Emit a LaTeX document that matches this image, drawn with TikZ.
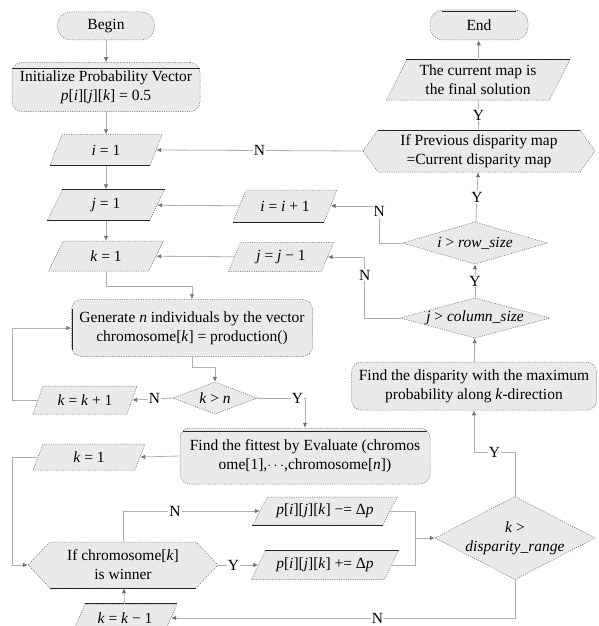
\documentclass[tikz,border=0pt]{standalone}
\usepackage{fontspec}
\setmainfont{Liberation Serif}
\usetikzlibrary{arrows.meta,calc}

\definecolor{boxfill}{RGB}{234,234,234}
\definecolor{lnk}{RGB}{175,175,175}
\definecolor{tipc}{RGB}{115,115,115}
\definecolor{edgec}{RGB}{95,95,95}

\tikzset{
 x=1pt, y=-1pt,
 every node/.style={font=\fontsize{15.5}{19}\selectfont},
 box/.style={rectangle, inner sep=0pt, align=center},
 shp/.style={fill=boxfill, draw=edgec, line width=0.5pt, dash pattern=on 1pt off 1.3pt},
 dark/.style={draw=black!85, line width=1pt},
 conn/.style={draw=lnk, line width=0.8pt, -{Latex[length=5pt,width=4.5pt,color=tipc]}},
 plain/.style={draw=lnk, line width=0.8pt},
 lbl/.style={fill=white, inner sep=1pt, text=black},
}

% parallelogram: name, cx, cy, mid width, height, slant, text
\newcommand\PARA[7]{%
 \path[shp] ({#2-#4/2-#6/2},{#3+#5/2}) -- ({#2+#4/2-#6/2},{#3+#5/2}) -- ({#2+#4/2+#6/2},{#3-#5/2}) -- ({#2-#4/2+#6/2},{#3-#5/2}) -- cycle;
 \node[box, minimum width=#4, minimum height=#5] (#1) at (#2,#3) {#7};}
\newcommand\darkbot[2]{\draw[dark] ($(#1.south west)+({-#2/2},0)$) -- ($(#1.south east)+({-#2/2},0)$);}
\newcommand\darktop[2]{\draw[dark] ($(#1.north west)+({#2/2},0)$) -- ($(#1.north east)+({#2/2},0)$);}
% rounded rectangle: name, cx, cy, w, h, radius, text
\newcommand\RREC[7]{%
 \node[box, shp, rounded corners=#6, minimum width=#4, minimum height=#5] (#1) at (#2,#3) {#7};}
% diamond: name, cx, cy, w, h, text
\newcommand\DIAM[6]{%
 \path[shp] (#2,{#3-#5/2}) -- ({#2+#4/2},#3) -- (#2,{#3+#5/2}) -- ({#2-#4/2},#3) -- cycle;
 \node[box, minimum width=#4, minimum height=#5] (#1) at (#2,#3) {#6};}
% hexagon: name, cx, cy, w, h, depth, text
\newcommand\HEXA[7]{%
 \path[shp] ({#2-#4/2},#3) -- ({#2-#4/2+#6},{#3-#5/2}) -- ({#2+#4/2-#6},{#3-#5/2}) -- ({#2+#4/2},#3) -- ({#2+#4/2-#6},{#3+#5/2}) -- ({#2-#4/2+#6},{#3+#5/2}) -- cycle;
 \node[box, minimum width=#4, minimum height=#5] (#1) at (#2,#3) {#7};}

\begin{document}
\begin{tikzpicture}
\useasboundingbox[fill=white] (0,0) rectangle (598,626);

% ---------- left column ----------
\RREC{begin}{106}{26}{97}{28}{13pt}{Begin}
\RREC{init}{106}{87}{188}{49}{10pt}{Initialize Probability Vector\\ \textit{p}[\textit{i}][\textit{j}][\textit{k}] = 0.5}
\draw[dark] ($(init.north west)+(0,6)$) -- ($(init.north east)+(0,6)$);
\PARA{i1}{106}{150}{100}{31}{12}{\textit{i} = 1}
\darkbot{i1}{12}
\PARA{j1}{106}{205}{102}{31}{15}{\textit{j} = 1}
\darktop{j1}{15}\darkbot{j1}{15}
\PARA{k1}{106}{256}{100}{30}{15}{\textit{k} = 1}

\RREC{gen}{192}{328}{241}{57}{10pt}{Generate \textit{n} individuals by the vector\\ chromosome[\textit{k}] = production()}
\draw[dark] ($(gen.north west)+(1,10)$) -- ($(gen.south west)+(1,-7)$);

\DIAM{kn}{215}{398}{84}{32}{\textit{k} > \textit{n}}
\PARA{kk1}{85}{400}{94}{28}{10}{\textit{k} = \textit{k} + 1}

\RREC{fit}{305}{456}{250}{56}{10pt}{Find the fittest by Evaluate (chromos\\ ome[1],$\cdots$,chromosome[\textit{n}])}
\draw[dark] ($(fit.north west)+(3,4)$) -- ($(fit.north east)+(-3,4)$);
\PARA{k1b}{89}{457}{102}{26}{10}{\textit{k} = 1}

\PARA{pm}{325}{511}{130}{28}{15}{\textit{p}[\textit{i}][\textit{j}][\textit{k}] −= Δ\textit{p}}
\darkbot{pm}{15}
\PARA{pp}{325}{565}{133}{29}{14}{\textit{p}[\textit{i}][\textit{j}][\textit{k}] += Δ\textit{p}}
\darktop{pp}{14}

\HEXA{chrom}{123}{565}{190}{46}{22}{If chromosome[\textit{k}]\\ is winner}
\draw[dark] (50,588) -- (196,588);
\PARA{km1}{125}{618}{92}{28}{12}{\textit{k} = \textit{k} − 1}
\darktop{km1}{12}

% ---------- middle column ----------
\PARA{ii1}{285}{206}{91}{32}{13}{\textit{i} = \textit{i} + 1}
\darkbot{ii1}{13}
\PARA{jj1}{281}{257}{93}{29}{12}{\textit{j} = \textit{j} − 1}

% ---------- right column ----------
\RREC{end}{479}{25}{98}{30}{13pt}{End}
\draw[dark] ($(end.north west)+(12,2)$) -- ($(end.north east)+(-12,2)$);
\PARA{final}{478}{80}{163}{40}{20}{The current map is\\ the final solution}
\darktop{final}{20}
\HEXA{prev}{479}{151}{232}{42}{15}{If Previous disparity map\\ =Current disparity map}
\draw[dark] (378,130) -- (580,130);
\DIAM{row}{475}{243}{145}{42}{\textit{i} > \textit{row\_size}}
\DIAM{col}{475}{318}{150}{40}{\textit{j} > \textit{column\_size}}
\RREC{disp}{474}{386}{245}{48}{10pt}{Find the disparity with the maximum\\ probability along \textit{k}-direction}
\DIAM{range}{515}{538}{160}{83}{\textit{k} >\\ \textit{disparity\_range}}

% ---------- connectors ----------
\draw[conn] (begin) -- (init);
\draw[conn] (init) -- (i1);
\draw[conn] (i1) -- (j1);
\draw[conn] (j1) -- (k1);
\draw[conn] (k1.south) -- ++(0,15) -| (gen.north);
\draw[conn] (gen.south) -- ++(0,11) -| (kn.north);
\draw[conn] (kn.west) -- node[lbl,pos=0.45]{N} (kk1.east);
\draw[conn] (kk1.west) -- ++(-25,0) |- (gen.west);
\draw[conn] (kn.east) -| node[lbl,pos=0.42]{Y} (fit.north);
\draw[conn] (fit.west) -- (k1b.east);
\draw[conn] (k1b.west) -- ++(-25,0) |- (chrom.west);
\draw[conn] (chrom.north) |- node[lbl,pos=0.69]{N} (pm.west);
\draw[conn] (chrom.east) -- node[lbl,pos=0.38]{Y} (pp.west);
\coordinate (junc) at (415,538);
\draw[plain] (pm.east) -| (junc);
\draw[plain] (pp.east) -| (junc);
\draw[conn] (junc) -- (range.west);
\draw[conn] (range.south) |- node[lbl,pos=0.7]{N} (km1.east);
\draw[conn] (km1) -- (chrom);
\draw[conn] (range.north) -- ++(0,-44) -| node[lbl,pos=0.25]{Y} (disp.south);
\draw[conn] (disp) -- (col);
\draw[conn] (col) -- node[lbl]{Y} (row);
\draw[conn] (row) -- node[lbl]{Y} (prev);
\draw[conn] (col.west) -- ++(-35,0) |- node[lbl,pos=0.35]{N} (jj1.east);
\draw[conn] (row.west) -- ++(-23,0) |- node[lbl,pos=0.42]{N} (ii1.east);
\draw[conn] (jj1) -- (k1);
\draw[conn] (ii1) -- (j1);
\draw[conn] (prev.west) -- node[lbl]{N} (i1.east);
\draw[plain] (prev) -- node[lbl]{Y} (final);
\draw[conn] (final) -- (end);
\end{tikzpicture}
\end{document}
